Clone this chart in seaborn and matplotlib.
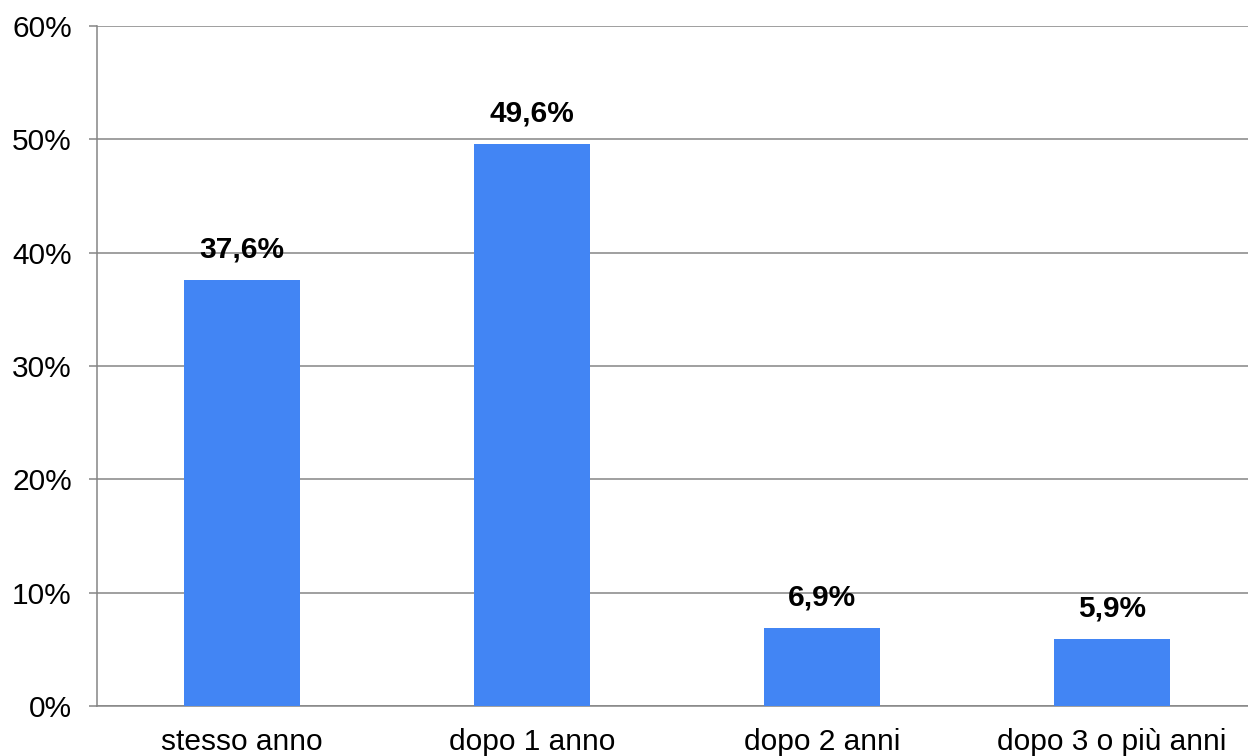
import matplotlib
matplotlib.use("Agg")
import matplotlib.pyplot as plt
import seaborn as sns
import pandas as pd

# dati
categorie = ["stesso anno", "dopo 1 anno", "dopo 2 anni", "dopo 3 o più anni"]
percentuali = [37.6, 49.6, 6.9, 5.9]
etichette = ["37,6%", "49,6%", "6,9%", "5,9%"]
tick_y = [0, 10, 20, 30, 40, 50, 60]

df = pd.DataFrame({"categoria": categorie, "valore": percentuali})

sns.set_style("white")
plt.rcParams["font.family"] = ["Liberation Sans", "DejaVu Sans"]
plt.rcParams["text.color"] = "black"

grigio = "#858585"

fig = plt.figure(figsize=(12.48, 7.56), dpi=100)
ax = fig.add_axes([0.0777, 0.0661, 0.9295, 0.8995])

sns.barplot(data=df, x="categoria", y="valore", color="#4285f4", width=0.4,
            saturation=1, ax=ax, zorder=3, edgecolor="none", linewidth=0)

ax.set_ylim(0, 60)
ax.set_xlim(-0.5, 3.5)
ax.set_yticks(tick_y)
ax.set_yticklabels([f"{v}%" for v in tick_y])
ax.yaxis.grid(True, color=grigio, linewidth=1.1, zorder=0)
ax.set_axisbelow(True)

# tacche sull'asse x ai confini delle categorie
ax.set_xticks([i - 0.5 for i in range(len(categorie) + 1)], minor=True)
ax.tick_params(axis="x", which="major", length=0, labelsize=21.5, pad=16, labelcolor="black")
ax.tick_params(axis="x", which="minor", length=6, width=1.1, color=grigio, direction="out")
ax.tick_params(axis="y", length=6, width=1.1, color=grigio, labelsize=21.5, pad=12,
               left=True, labelcolor="black")

for lato in ["top", "right"]:
    ax.spines[lato].set_visible(False)
for lato in ["left", "bottom"]:
    ax.spines[lato].set_color(grigio)
    ax.spines[lato].set_linewidth(1.1)

ax.set_xlabel("")
ax.set_ylabel("")

for i, (v, t) in enumerate(zip(percentuali, etichette)):
    ax.annotate(t, (i, v), xytext=(0, 12), textcoords="offset points",
                ha="center", va="bottom", fontsize=21.5, fontweight="bold", color="black")

fig.savefig("out.png", dpi=100)
